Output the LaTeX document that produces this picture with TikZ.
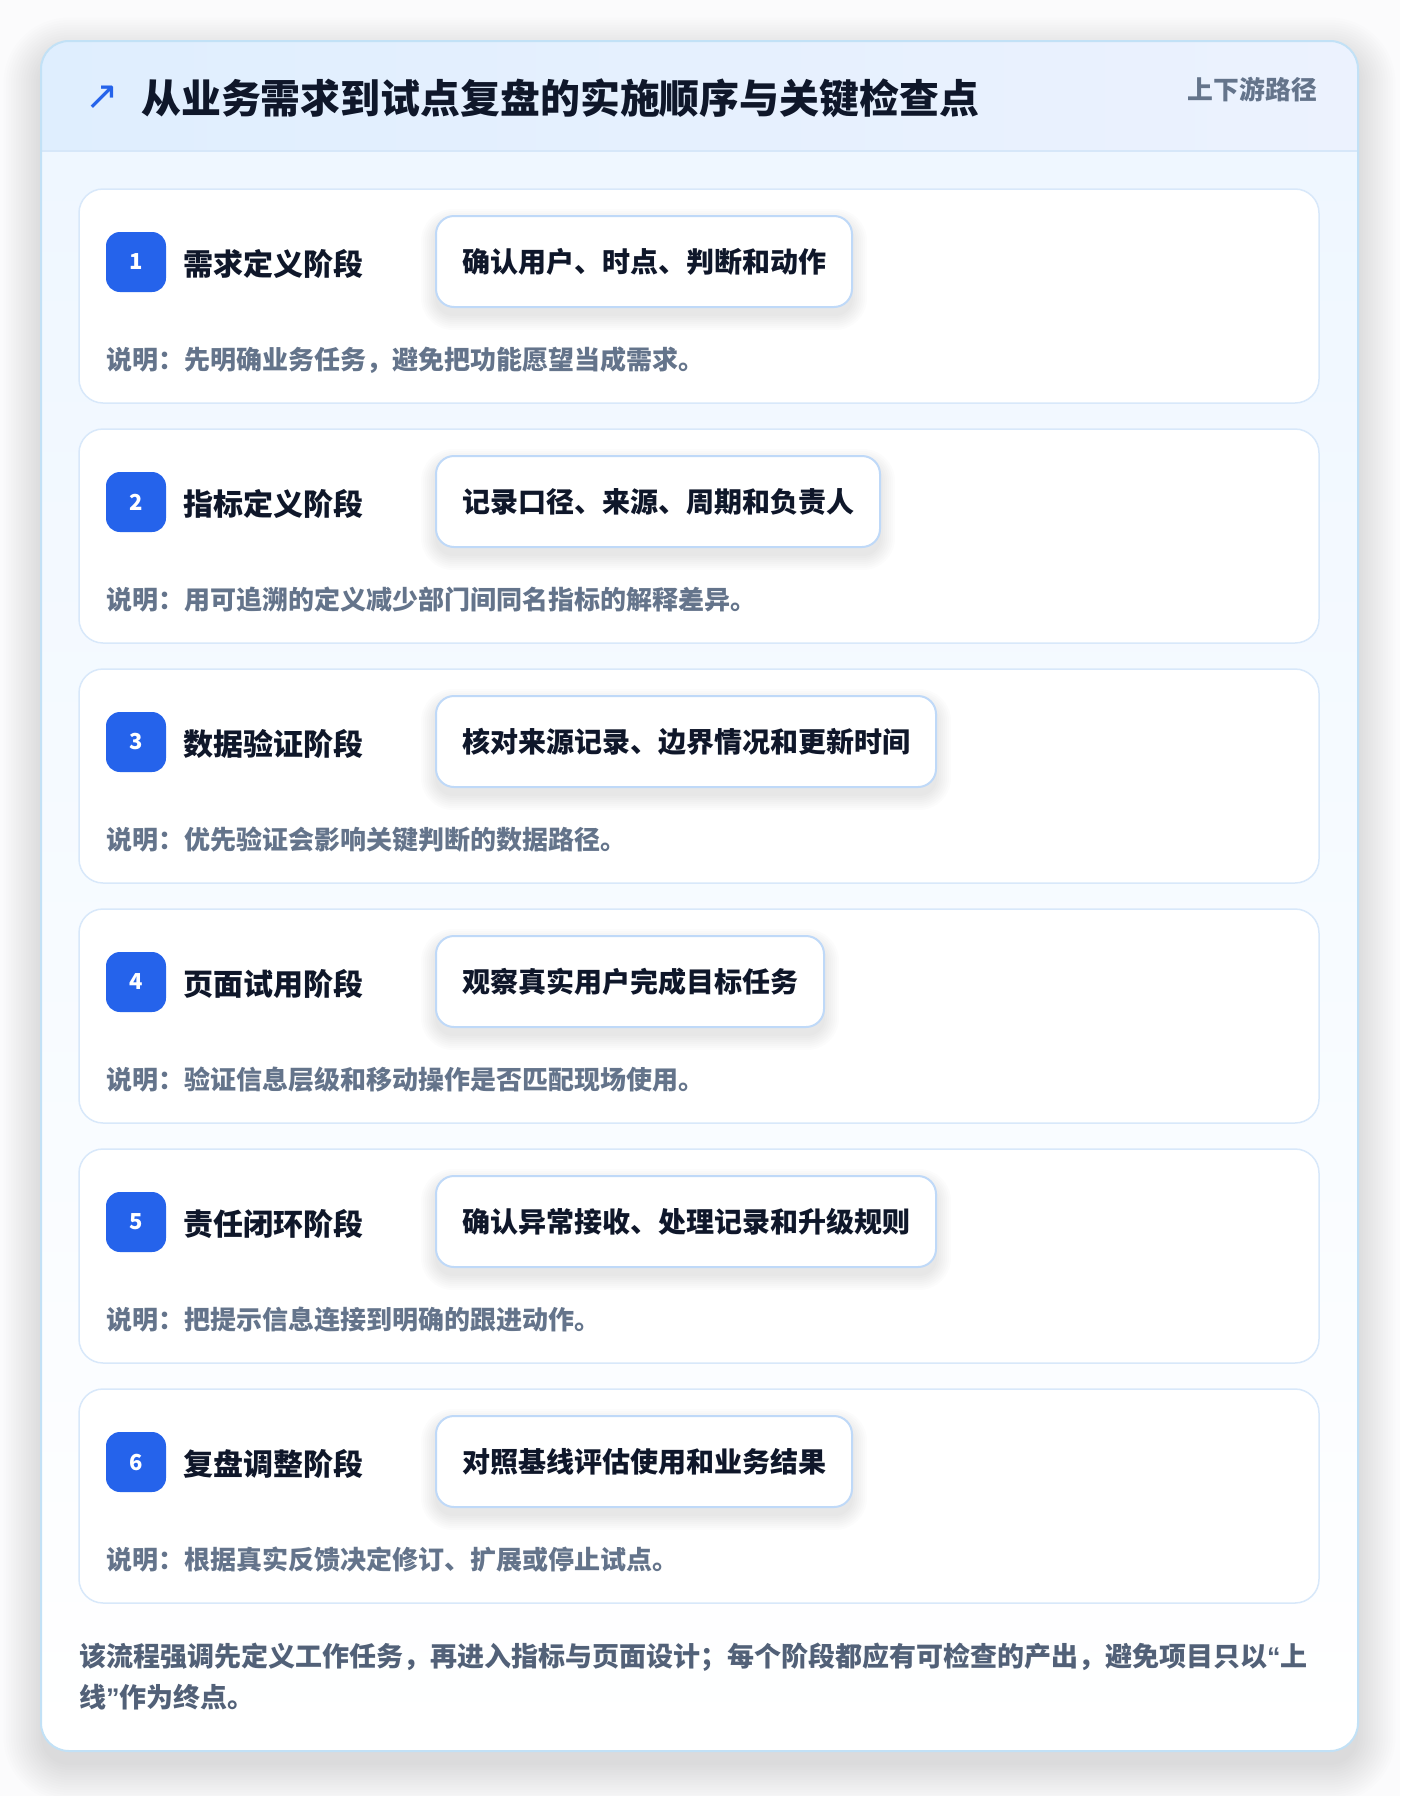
\documentclass[tikz,border=0pt]{standalone}
\usepackage{fontspec}
\setmainfont{Noto Sans CJK SC}
\newfontfamily\symfont{DejaVu Sans}
\newfontfamily\qfont{Liberation Sans}
\newcommand{\myopenq}{{\qfont\bfseries “}}
\newcommand{\mycloseq}{{\qfont\bfseries ”}}
\pgfdeclarelayer{base}
\pgfdeclarelayer{cards}
\pgfdeclarelayer{shad}
\pgfsetlayers{base,cards,shad,main}
\definecolor{bgc}{HTML}{FBFBFC}
\definecolor{outerline}{HTML}{C2E1F6}
\definecolor{hdrL}{HTML}{DFEEFE}
\definecolor{hdrR}{HTML}{ECF2FE}
\definecolor{hdrline}{HTML}{D6E7F9}
\definecolor{bodytop}{HTML}{EFF7FF}
\definecolor{cardline}{HTML}{D8E8FA}
\definecolor{chipline}{HTML}{BFD9F8}
\definecolor{blue}{HTML}{2563EB}
\definecolor{ink}{HTML}{0F172A}
\definecolor{slate}{HTML}{64748B}
\definecolor{foot}{HTML}{526178}
\tikzset{
  stagecard/.style={draw=cardline, line width=1.5pt, fill=white, rounded corners=24pt},
  badge/.style={fill=blue, rounded corners=14pt, minimum width=60pt, minimum height=60pt, inner sep=0pt,
    text=white, font=\fontsize{22}{26}\selectfont\bfseries},
  stagetitle/.style={anchor=west, inner sep=0pt, text=ink, font=\fontsize{30}{36}\selectfont\bfseries},
  chip/.style={anchor=west, draw=chipline, line width=2pt, fill=white, rounded corners=18pt,
    minimum height=91pt, inner xsep=26pt, inner ysep=0pt, text=ink,
    font=\fontsize{28}{34}\selectfont\bfseries},
  desc/.style={anchor=west, inner sep=0pt, text=slate, font=\fontsize{26}{30}\selectfont\bfseries},
  foottext/.style={anchor=west, inner sep=0pt, text=foot, font=\fontsize{27}{32}\selectfont\bfseries},
  shadowstep/.style={fill=black, opacity=#1},
}
\begin{document}
\begin{tikzpicture}[x=1pt, y=-1pt]
\useasboundingbox (0,0) rectangle (1400,1796);
\begin{pgfonlayer}{base}
\fill[bgc] (0,0) rectangle (1400,1796);
% outer card soft shadow
\foreach \i in {0,...,15}{
  \pgfmathsetmacro{\d}{2.5*\i}
  \pgfmathsetmacro{\r}{28+\d}
  \fill[shadowstep=0.007, rounded corners=\r pt] (41-\d,41-\d+14) rectangle (1358+\d,1751+\d+14);
}
\begin{scope}
  \clip[rounded corners=28pt] (41,41) rectangle (1358,1751);
  \fill[white] (41,41) rectangle (1358,1751);
  \shade[top color=bodytop, bottom color=white] (41,151) rectangle (1358,1751);
  \shade[left color=hdrL, right color=hdrR] (41,41) rectangle (1358,151);
  \draw[hdrline, line width=2pt] (41,151) -- (1358,151);
\end{scope}
\draw[outerline, line width=2pt, rounded corners=28pt] (41,41) rectangle (1358,1751);
\end{pgfonlayer}
% header
\node[anchor=center, inner sep=0pt, text=blue, font=\symfont\fontsize{40}{44}\selectfont] (icon) at (102,98) {↗};
\node[anchor=west, inner sep=0pt, text=ink, font=\fontsize{39.9}{46}\selectfont\bfseries] (title) at (141,98) {从业务需求到试点复盘的实施顺序与关键检查点};
\node[anchor=east, inner sep=0pt, text=slate, font=\fontsize{25.8}{30}\selectfont\bfseries] (route) at (1317,90) {上下游路径};
% stages
\foreach \k/\ttl/\ctext/\dtext in {
  1/需求定义阶段/确认用户、时点、判断和动作/说明：先明确业务任务，避免把功能愿望当成需求。,
  2/指标定义阶段/记录口径、来源、周期和负责人/说明：用可追溯的定义减少部门间同名指标的解释差异。,
  3/数据验证阶段/核对来源记录、边界情况和更新时间/说明：优先验证会影响关键判断的数据路径。,
  4/页面试用阶段/观察真实用户完成目标任务/说明：验证信息层级和移动操作是否匹配现场使用。,
  5/责任闭环阶段/确认异常接收、处理记录和升级规则/说明：把提示信息连接到明确的跟进动作。,
  6/复盘调整阶段/对照基线评估使用和业务结果/说明：根据真实反馈决定修订、扩展或停止试点。}{
  \pgfmathsetmacro{\T}{189+240*(\k-1)}
  \begin{pgfonlayer}{cards}
    \draw[stagecard] (79,\T) rectangle (1319,\T+214);
  \end{pgfonlayer}
  \node[badge] (badge\k) at (136,\T+73) {\k};
  \node[stagetitle] (stage\k) at (183,\T+75) {\ttl};
  \node[chip] (chip\k) at (435,\T+72.5) {\ctext};
  \begin{pgfonlayer}{shad}
    \foreach \i in {0,...,7}{
      \pgfmathsetmacro{\d}{2*\i}
      \pgfmathsetmacro{\r}{18+\d}
      \fill[shadowstep=0.012, rounded corners=\r pt]
        ([xshift=-\d pt, yshift=\d pt-8pt]chip\k.north west) rectangle ([xshift=\d pt, yshift=-\d pt-8pt]chip\k.south east);
    }
  \end{pgfonlayer}
  \node[desc] (desc\k) at (106,\T+171) {\dtext};
}
% footer
\node[foottext] (foot1) at (79,1657) {该流程强调先定义工作任务，再进入指标与页面设计；每个阶段都应有可检查的产出，避免项目只以\myopenq 上};
\node[foottext] (foot2) at (79,1697) {线\mycloseq 作为终点。};
\end{tikzpicture}
\end{document}
